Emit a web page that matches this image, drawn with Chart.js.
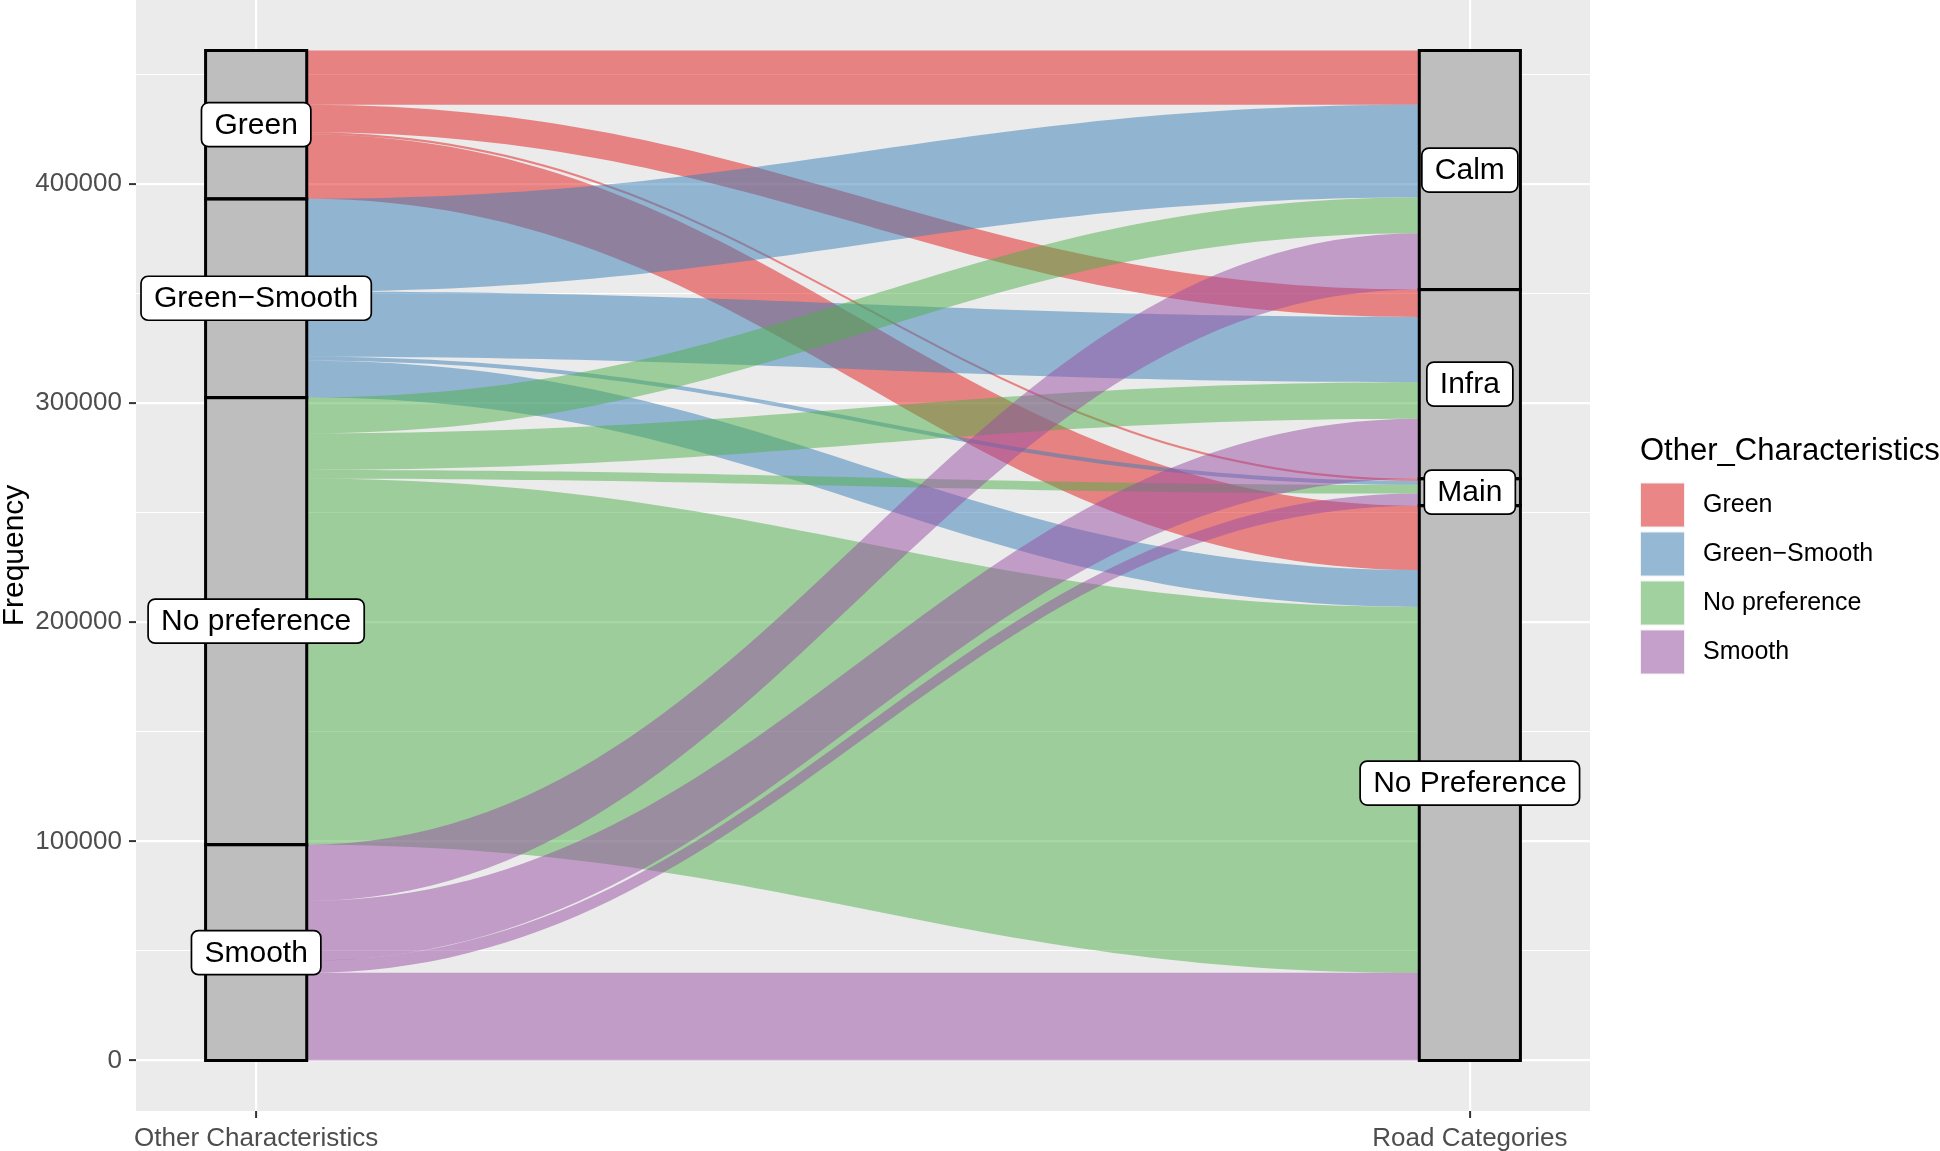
<!DOCTYPE html>
<html>
<head>
<meta charset="utf-8">
<script src="https://cdn.jsdelivr.net/npm/chart.js@4.4.1/dist/chart.umd.min.js"></script>
<style>
  html, body { margin: 0; padding: 0; background: #ffffff; }
</style>
</head>
<body>
<canvas id="alluvial" width="1940" height="1151" style="width:1940px;height:1151px"></canvas>
<script>
const axisNames = ['Other Characteristics', 'Road Categories']
const sources = ['Green', 'Green\u2212Smooth', 'No preference', 'Smooth']
const targets = ['Calm', 'Infra', 'Main', 'No Preference']
const sourceColors = ['#E41A1C', '#377EB8', '#4DAF4A', '#984EA3']

// frequencies going from each "other characteristic" to Calm, Infra, Main, No Preference
const greenFlows = [24800, 12500, 1000, 29400]
const greenSmoothFlows = [42300, 29800, 1800, 16800]
const noPreferenceFlows = [16300, 16700, 4000, 167000]
const smoothFlows = [25700, 27300, 5500, 40000]
const yTicks = [0, 100000, 200000, 300000, 400000]
const yMinorTicks = [50000, 150000, 250000, 350000, 450000]

const flows = [greenFlows, greenSmoothFlows, noPreferenceFlows, smoothFlows]
const stratumWidth = 1 / 12
const xExpand = 0.099
const font = '"Liberation Sans", Arial, Helvetica, sans-serif'

function rgba(hex, a) {
    const n = parseInt(hex.slice(1), 16)
    return `rgba(${n >> 16}, ${(n >> 8) & 255}, ${n & 255}, ${a})`
}

// stack the lodes: first level on top, like ggalluvial
const total = flows.flat().reduce((a, b) => a + b, 0)
const leftStrata = [], rightStrata = []
const leftLodes = sources.map(() => []), rightLodes = sources.map(() => [])

let stackTop = total
sources.forEach((s, i) => {
    const size = flows[i].reduce((a, b) => a + b, 0)
    leftStrata.push([stackTop - size, stackTop])
    let y = stackTop
    targets.forEach((t, j) => {
        leftLodes[i][j] = [y - flows[i][j], y]
        y -= flows[i][j]
    })
    stackTop -= size
})
stackTop = total
targets.forEach((t, j) => {
    const size = flows.reduce((a, row) => a + row[j], 0)
    rightStrata.push([stackTop - size, stackTop])
    let y = stackTop
    sources.forEach((s, i) => {
        rightLodes[i][j] = [y - flows[i][j], y]
        y -= flows[i][j]
    })
    stackTop -= size
})

function drawLabel(ctx, text, cx, cy) {
    ctx.font = '30px ' + font
    const w = ctx.measureText(text).width + 26
    const h = 44
    ctx.beginPath()
    ctx.roundRect(cx - w / 2, cy - h / 2, w, h, 7)
    ctx.fillStyle = '#ffffff'
    ctx.fill()
    ctx.lineWidth = 1.7
    ctx.strokeStyle = '#000000'
    ctx.stroke()
    ctx.fillStyle = '#000000'
    ctx.textAlign = 'center'
    ctx.textBaseline = 'middle'
    ctx.fillText(text, cx, cy + 1)
}

const alluvialPlugin = {
    id: 'alluvial',
    beforeDraw(chart) {
        const { ctx, chartArea } = chart
        ctx.save()
        ctx.fillStyle = '#EBEBEB'
        ctx.fillRect(chartArea.left, chartArea.top, chartArea.right - chartArea.left, chartArea.bottom - chartArea.top)
        ctx.restore()
    },
    beforeDatasetsDraw(chart) {
        const { ctx } = chart
        const xs = chart.scales.x, ys = chart.scales.y
        const half = stratumWidth / 2
        const x0 = xs.getPixelForValue(1 + half)
        const x1 = xs.getPixelForValue(2 - half)
        const k = (x1 - x0) * 0.42
        ctx.save()

        sources.forEach((s, i) => {
            ctx.fillStyle = rgba(sourceColors[i], 0.5)
            targets.forEach((t, j) => {
                if (!flows[i][j]) return
                const lt = ys.getPixelForValue(leftLodes[i][j][1])
                const lb = ys.getPixelForValue(leftLodes[i][j][0])
                const rt = ys.getPixelForValue(rightLodes[i][j][1])
                const rb = ys.getPixelForValue(rightLodes[i][j][0])
                ctx.beginPath()
                ctx.moveTo(x0, lt)
                ctx.bezierCurveTo(x0 + k, lt, x1 - k, rt, x1, rt)
                ctx.lineTo(x1, rb)
                ctx.bezierCurveTo(x1 - k, rb, x0 + k, lb, x0, lb)
                ctx.closePath()
                ctx.fill()
            })
        })

        // strata boxes
        const columns = [[1, leftStrata], [2, rightStrata]]
        columns.forEach(([pos, strata]) => {
            const l = xs.getPixelForValue(pos - half)
            const r = xs.getPixelForValue(pos + half)
            strata.forEach(([lo, hi]) => {
                const t = ys.getPixelForValue(hi), b = ys.getPixelForValue(lo)
                ctx.fillStyle = '#BEBEBE'
                ctx.fillRect(l, t, r - l, b - t)
            })
            ctx.lineWidth = 3
            ctx.strokeStyle = '#000000'
            strata.forEach(([lo, hi]) => {
                const t = ys.getPixelForValue(hi), b = ys.getPixelForValue(lo)
                ctx.strokeRect(l, t, r - l, b - t)
            })
        })

        sources.forEach((s, i) => {
            const [lo, hi] = leftStrata[i]
            drawLabel(ctx, s, xs.getPixelForValue(1), ys.getPixelForValue((lo + hi) / 2))
        })
        targets.forEach((t, j) => {
            const [lo, hi] = rightStrata[j]
            drawLabel(ctx, t, xs.getPixelForValue(2), ys.getPixelForValue((lo + hi) / 2))
        })
        ctx.restore()
    },
    afterDraw(chart) {
        // legend, ggplot style
        const { ctx, chartArea } = chart
        const lx = chartArea.right + 50
        const ly = (chartArea.top + chartArea.bottom) / 2 - 120
        ctx.save()
        ctx.fillStyle = '#000000'
        ctx.textAlign = 'left'
        ctx.textBaseline = 'middle'
        ctx.font = '31px ' + font
        ctx.fillText('Other_Characteristics', lx, ly + 16)
        sources.forEach((s, i) => {
            const by = ly + 47 + i * 49
            ctx.fillStyle = '#F2F2F2'
            ctx.fillRect(lx, by, 45, 45)
            ctx.fillStyle = rgba(sourceColors[i], 0.5)
            ctx.fillRect(lx + 1, by + 1, 43, 43)
            ctx.fillStyle = '#000000'
            ctx.font = '25px ' + font
            ctx.fillText(s, lx + 63, by + 23)
        })
        ctx.restore()
    }
}

const pad = total * 0.05

const chart = new Chart(document.getElementById('alluvial'), {
    type: 'scatter',
    data: { datasets: [] },
    plugins: [alluvialPlugin],
    options: {
        responsive: false,
        animation: false,
        devicePixelRatio: 1,
        layout: { padding: { left: 0, right: 350, top: 0, bottom: 0 } },
        plugins: { legend: { display: false }, tooltip: { enabled: false } },
        scales: {
            x: {
                type: 'linear',
                min: 1 - xExpand,
                max: 2 + xExpand,
                afterBuildTicks: (scale) => { scale.ticks = axisNames.map((n, i) => ({ value: i + 1 })) },
                afterFit: (scale) => { scale.height = 40; scale.paddingLeft = 0; scale.paddingRight = 0 },
                ticks: {
                    callback: (v, i) => axisNames[i],
                    autoSkip: false,
                    maxRotation: 0,
                    padding: 5,
                    color: '#4D4D4D',
                    font: { family: font, size: 26 }
                },
                grid: { color: '#FFFFFF', lineWidth: 2.2, tickLength: 7, tickColor: '#333333', tickWidth: 2 },
                border: { display: false }
            },
            y: {
                type: 'linear',
                min: -pad,
                max: total + pad,
                afterBuildTicks: (scale) => {
                    scale.ticks = yTicks.concat(yMinorTicks).sort((a, b) => a - b).map((v) => ({ value: v }))
                },
                afterFit: (scale) => { scale.width = 136; scale.paddingTop = 0; scale.paddingBottom = 0 },
                ticks: {
                    callback: (v) => yTicks.includes(v) ? String(v) : '',
                    autoSkip: false,
                    padding: 7,
                    color: '#4D4D4D',
                    font: { family: font, size: 26 }
                },
                grid: {
                    color: '#FFFFFF',
                    lineWidth: (c) => c.tick && yTicks.includes(c.tick.value) ? 2.2 : 1.1,
                    tickLength: 7,
                    tickWidth: 2,
                    tickColor: (c) => c.tick && yTicks.includes(c.tick.value) ? '#333333' : 'rgba(0,0,0,0)'
                },
                border: { display: false },
                title: {
                    display: true,
                    text: 'Frequency',
                    color: '#000000',
                    padding: 0,
                    font: { family: font, size: 30, lineHeight: 1 }
                }
            }
        }
    }
})
</script>
</body>
</html>
